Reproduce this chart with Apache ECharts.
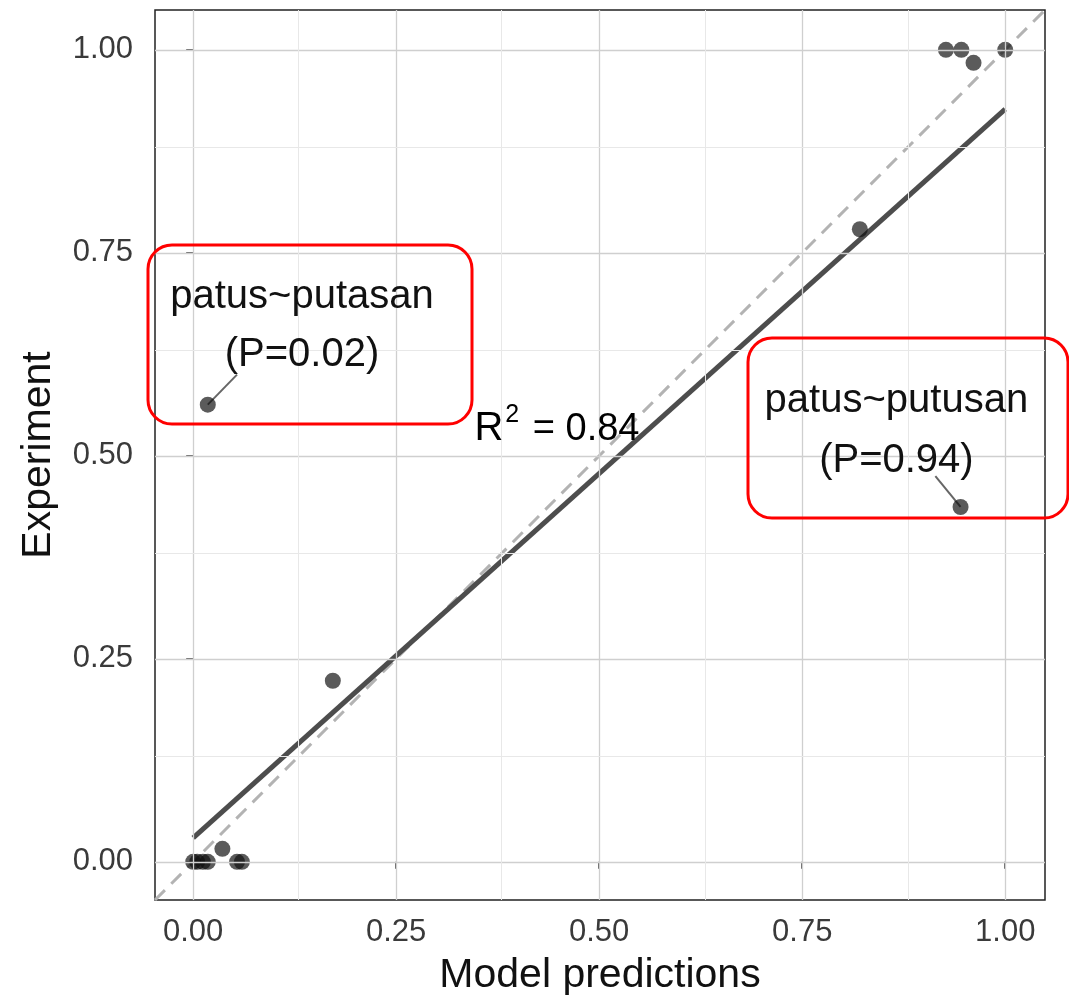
<!DOCTYPE html>
<html><head><meta charset="utf-8">
<script src="https://cdn.jsdelivr.net/npm/echarts@6/dist/echarts.min.js"></script>
<style>html,body{margin:0;padding:0;background:#fff}#c{width:1069px;height:1001px}</style>
</head><body><div id="c"></div>
<script>
// Data
const modelPred  = [0.000, 0.005, 0.012, 0.018, 0.036, 0.054, 0.060, 0.172, 0.018, 0.821, 0.945, 0.927, 0.946, 0.961, 1.000];
const experiment = [0.000, 0.000, 0.000, 0.000, 0.016, 0.000, 0.000, 0.223, 0.563, 0.779, 0.437, 1.000, 1.000, 0.984, 1.000];
const tickValues = [0, 0.25, 0.5, 0.75, 1];
const minorValues = [0.125, 0.375, 0.625, 0.875];
const fitLine = [[0, 0.0295], [1, 0.927]];
const axisRange = [-0.047, 1.049];
const annotations = [
  {text: 'patus~putasan', x: 0.134, y: 0.695},
  {text: '(P=0.02)', x: 0.134, y: 0.624},
  {text: 'patus~putusan', x: 0.866, y: 0.568},
  {text: '(P=0.94)', x: 0.866, y: 0.494}
];
const leaders = [
  [[0.018, 0.563], [0.054, 0.600]],
  [[0.945, 0.437], [0.914, 0.475]]
];
const r2Pos = {x: 0.448, y: 0.537, value: '0.84'};

const FONT = '"Liberation Sans", Arial, Helvetica, sans-serif';
const chart = echarts.init(document.getElementById('c'));
const axisCommon = {
  type: 'value', min: axisRange[0], max: axisRange[1],
  axisLine: {show: false},
  axisTick: {show: true, customValues: tickValues, length: 7, lineStyle: {color: '#333', width: 1.5}},
  axisLabel: {customValues: tickValues, formatter: v => v.toFixed(2), fontSize: 31, color: '#3a3a3a', fontFamily: FONT},
  splitLine: {show: false},
  nameLocation: 'middle',
  nameTextStyle: {fontSize: 41, color: '#111', fontFamily: FONT}
};
const pts = modelPred.map((x, i) => [x, experiment[i]]);
const gridLine = (w, col) => ({lineStyle: {color: col, width: w, type: 'solid'}});
const markData = [];
tickValues.forEach(v => { markData.push({xAxis: v, ...gridLine(1.3, '#cfcfcf')}); markData.push({yAxis: v, ...gridLine(1.3, '#cfcfcf')}); });
minorValues.forEach(v => { markData.push({xAxis: v, ...gridLine(1, '#e8e8e8')}); markData.push({yAxis: v, ...gridLine(1, '#e8e8e8')}); });

chart.setOption({
  animation: false,
  backgroundColor: '#fff',
  grid: {left: 155, right: 24, top: 10, bottom: 101, show: true, borderColor: '#222', borderWidth: 1.5, backgroundColor: 'transparent'},
  xAxis: Object.assign({}, axisCommon, {name: 'Model predictions', nameGap: 55, axisLabel: Object.assign({}, axisCommon.axisLabel, {margin: 17})}),
  yAxis: Object.assign({}, axisCommon, {name: 'Experiment', nameGap: 96, axisLabel: Object.assign({}, axisCommon.axisLabel, {margin: 22})}),
  series: [
    {type: 'line', data: [], markLine: {silent: true, symbol: 'none', label: {show: false}, data: markData}, z: 0},
    {type: 'line', data: [[axisRange[0], axisRange[0]], [axisRange[1], axisRange[1]]], symbol: 'none',
     lineStyle: {color: '#b3b3b3', width: 3, type: [14, 9]}, z: 1},
    {type: 'line', data: fitLine, symbol: 'none', lineStyle: {color: '#4d4d4d', width: 5}, z: 2},
    ...leaders.map(l => ({type: 'line', data: l, symbol: 'none', lineStyle: {color: '#666', width: 2}, z: 3})),
    {type: 'scatter', data: pts, symbolSize: 16, itemStyle: {color: 'rgba(15,15,15,0.85)'}, z: 4}
  ]
});

const px = (x, y) => chart.convertToPixel({gridIndex: 0}, [x, y]);
const graphics = annotations.map(a => {
  const p = px(a.x, a.y);
  return {type: 'text', x: p[0], y: p[1], z: 10, style: {text: a.text, font: '40px ' + FONT, fill: '#111', align: 'center', verticalAlign: 'middle'}};
});
const rp = px(r2Pos.x, r2Pos.y);
graphics.push({type: 'text', x: rp[0], y: rp[1], z: 10, style: {
  text: '{a|R}{s|2}{b| = ' + r2Pos.value + '}', align: 'center', verticalAlign: 'middle',
  rich: {a: {fontSize: 40, fontFamily: FONT, color: '#111', verticalAlign: 'bottom', lineHeight: 46},
         b: {fontSize: 38, fontFamily: FONT, color: '#111', verticalAlign: 'bottom', lineHeight: 46},
         s: {fontSize: 25, fontFamily: FONT, color: '#111', verticalAlign: 'top', lineHeight: 46, padding: [0, 3, 18, 2]}}
}});
graphics.push({type: 'rect', shape: {x: 148, y: 245, width: 324, height: 179, r: 24}, z: 11, style: {fill: 'none', stroke: '#f00', lineWidth: 3}});
graphics.push({type: 'rect', shape: {x: 748, y: 338, width: 320, height: 180, r: 24}, z: 11, style: {fill: 'none', stroke: '#f00', lineWidth: 3}});
chart.setOption({graphic: graphics});
</script></body></html>
